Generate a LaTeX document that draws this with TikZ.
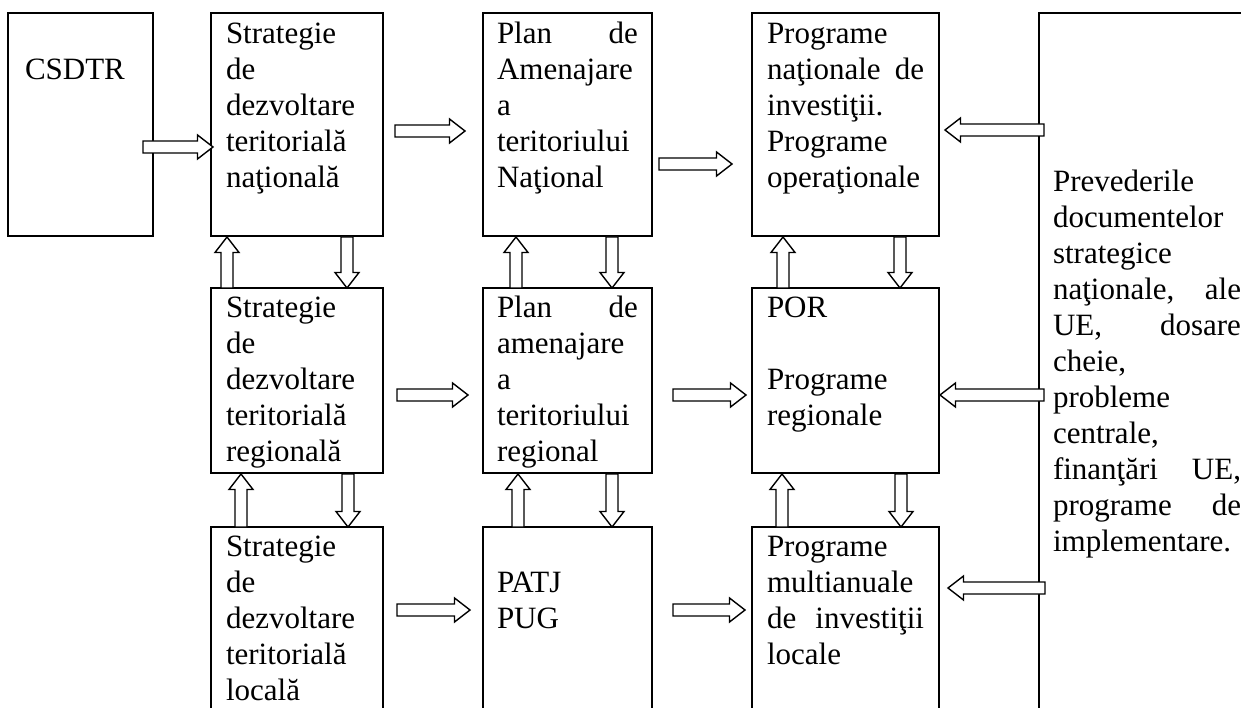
\documentclass[tikz,border=0pt]{standalone}
\usepackage{fontspec}
\setmainfont{Liberation Serif}
\usetikzlibrary{calc}
\tikzset{
  box/.style={draw, line width=2.4pt, inner xsep=15pt, inner ysep=0pt, outer sep=0pt,
    anchor=north west, align=left, font=\fontsize{31}{36}\selectfont},
  rowone/.style={text height=31pt, text depth=192pt},
  rowtwo/.style={text height=29pt, text depth=156pt},
  rowthree/.style={text height=29pt, text depth=215pt},
  colA/.style={text width=142pt},
  colB/.style={text width=141pt, inner xsep=14pt},
  colC/.style={text width=157pt},
  blockarr/.style={draw, line width=1.4pt, fill=white, line join=miter},
}
\newcommand\blockarrow[2]{%
  \coordinate (bah) at ($(#2)!15.5pt!(#1)$);
  \draw[blockarr] ($(#1)!6pt!90:(#2)$) -- ($(bah)!6pt!90:(#2)$) -- ($(bah)!12pt!90:(#2)$)
    -- (#2) -- ($(bah)!12pt!-90:(#2)$) -- ($(bah)!6pt!-90:(#2)$) -- ($(#1)!6pt!-90:(#2)$) -- cycle;}
\begin{document}
\begin{tikzpicture}[x=1pt,y=-1pt]
\path[use as bounding box] (0,0) rectangle (1241,708);
\clip (0,0) rectangle (1241,708);
% boxes
\node[box,rowone,text width=111pt,inner xsep=17pt] (cs) at (8,13) {\mbox{}\\CSDTR};
\node[box,rowone,colA] (A1) at (211,13) {Strategie\\de\\dezvoltare\\teritorială\\naţională};
\node[box,rowone,colB] (B1) at (483,13) {Plan\hfill de\\Amenajare\\a\\teritoriului\\Naţional};
\node[box,rowone,colC] (C1) at (752,13) {Programe\\naţionale\hfill de\\investiţii.\\Programe\\operaţionale};
\node[box,text width=188pt,inner xsep=14pt,text height=179pt,text depth=540pt] (R) at (1039,13)
  {Prevederile\\documentelor\\strategice\\naţionale,\hfill ale\\UE,\hfill dosare\\cheie,\\probleme\\centrale,\\finanţări\hfill UE,\\programe\hfill de\\implementare.};
\node[box,rowtwo,colA] (A2) at (211,288) {Strategie\\de\\dezvoltare\\teritorială\\regională};
\node[box,rowtwo,colB] (B2) at (483,288) {Plan\hfill de\\amenajare\\a\\teritoriului\\regional};
\node[box,rowtwo,colC] (C2) at (752,288) {POR\\[36pt]Programe\\regionale};
\node[box,rowthree,colA] (A3) at (211,527) {Strategie\\de\\dezvoltare\\teritorială\\locală};
\node[box,rowthree,colB] (B3) at (483,527) {\mbox{}\\PATJ\\PUG};
\node[box,rowthree,colC] (C3) at (752,527) {Programe\\multianuale\\de\hfill investiţii\\locale};
% horizontal arrow ends
\coordinate (h1s) at ([shift={(-10,134)}]cs.north east);
\coordinate (h1e) at ([shift={(2,134)}]A1.north west);
\coordinate (h2s) at ([shift={(12,118)}]A1.north east);
\coordinate (h2e) at ([shift={(-18,118)}]B1.north west);
\coordinate (h3s) at ([shift={(7,151)}]B1.north east);
\coordinate (h3e) at ([shift={(-20,151)}]C1.north west);
\coordinate (h4s) at ([shift={(5,117)}]R.north west);
\coordinate (h4e) at ([shift={(6,117)}]C1.north east);
\coordinate (h5s) at ([shift={(14,107)}]A2.north east);
\coordinate (h5e) at ([shift={(-15,107)}]B2.north west);
\coordinate (h6s) at ([shift={(21,107)}]B2.north east);
\coordinate (h6e) at ([shift={(-6,107)}]C2.north west);
\coordinate (h7s) at ([shift={(5,382)}]R.north west);
\coordinate (h7e) at ([shift={(1,107)}]C2.north east);
\coordinate (h8s) at ([shift={(14,83)}]A3.north east);
\coordinate (h8e) at ([shift={(-13,83)}]B3.north west);
\coordinate (h9s) at ([shift={(21,83)}]B3.north east);
\coordinate (h9e) at ([shift={(-7,83)}]C3.north west);
\coordinate (h10s) at ([shift={(6,575)}]R.north west);
\coordinate (h10e) at ([shift={(9,61)}]C3.north east);
% vertical arrow ends, rows 1-2
\coordinate (v1s) at ([shift={(16,0)}]A2.north west);
\coordinate (v1e) at ([shift={(16,1)}]A1.south west);
\coordinate (v2s) at ([shift={(136,1)}]A1.south west);
\coordinate (v2e) at ([shift={(136,0)}]A2.north west);
\coordinate (v3s) at ([shift={(33,0)}]B2.north west);
\coordinate (v3e) at ([shift={(33,1)}]B1.south west);
\coordinate (v4s) at ([shift={(129,1)}]B1.south west);
\coordinate (v4e) at ([shift={(129,0)}]B2.north west);
\coordinate (v5s) at ([shift={(31,0)}]C2.north west);
\coordinate (v5e) at ([shift={(31,1)}]C1.south west);
\coordinate (v6s) at ([shift={(148,1)}]C1.south west);
\coordinate (v6e) at ([shift={(148,0)}]C2.north west);
% rows 2-3
\coordinate (w1s) at ([shift={(30,0)}]A3.north west);
\coordinate (w1e) at ([shift={(30,1)}]A2.south west);
\coordinate (w2s) at ([shift={(137,1)}]A2.south west);
\coordinate (w2e) at ([shift={(137,0)}]A3.north west);
\coordinate (w3s) at ([shift={(35,0)}]B3.north west);
\coordinate (w3e) at ([shift={(35,1)}]B2.south west);
\coordinate (w4s) at ([shift={(129,1)}]B2.south west);
\coordinate (w4e) at ([shift={(129,0)}]B3.north west);
\coordinate (w5s) at ([shift={(30,0)}]C3.north west);
\coordinate (w5e) at ([shift={(30,1)}]C2.south west);
\coordinate (w6s) at ([shift={(149,1)}]C2.south west);
\coordinate (w6e) at ([shift={(149,0)}]C3.north west);
% draw arrows
\foreach \a in {h1,h2,h3,h4,h5,h6,h7,h8,h9,h10,v1,v2,v3,v4,v5,v6,w1,w2,w3,w4,w5,w6}{
  \blockarrow{\a s}{\a e}
}
\end{tikzpicture}
\end{document}
